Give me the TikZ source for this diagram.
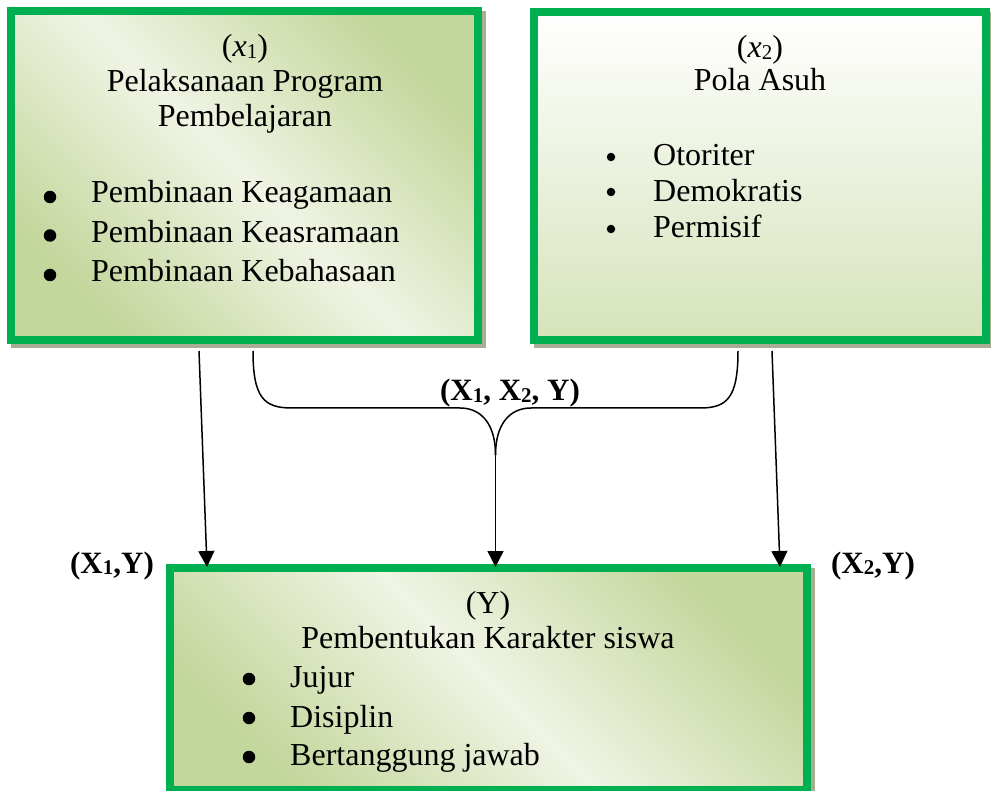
\documentclass[tikz,border=0pt]{standalone}
\usepackage{fontspec}
\setmainfont{Liberation Serif}
\usetikzlibrary{arrows.meta,backgrounds,calc}
\definecolor{bgreen}{RGB}{0,176,80}
\definecolor{shad}{RGB}{168,174,148}
\definecolor{oliveD}{RGB}{195,214,155}
\definecolor{oliveL}{RGB}{240,244,228}
\definecolor{oliveB}{RGB}{214,227,186}
\pgfdeclarehorizontalshading{diagolive}{100bp}{color(0bp)=(oliveD); color(25bp)=(oliveD); color(50bp)=(oliveL); color(75bp)=(oliveD); color(100bp)=(oliveD)}
\newcommand\sbs[1]{\raisebox{-1.5pt}{\fontsize{21}{21}\selectfont #1}}
\begin{document}
\begin{tikzpicture}[x=1pt,y=-1pt,
  boxbase/.style={draw=bgreen, line width=8pt, inner sep=0pt, outer sep=0pt},
  diagbox/.style={boxbase, shading=diagolive, shading angle=45},
  vertbox/.style={boxbase, top color=white, bottom color=oliveB},
  txt/.style={anchor=base, inner sep=0pt, font=\fontsize{32}{36}\selectfont},
  itemtxt/.style={txt, anchor=base west},
  lbl/.style={anchor=base, inner sep=0pt, font=\fontsize{31}{36}\selectfont\bfseries},
  bigdot/.style={circle, fill=black, inner sep=0pt, minimum size=12.5pt},
  smalldot/.style={circle, fill=black, inner sep=0pt, minimum size=8.5pt},
  conn/.style={line width=1.5pt},
  arr/.style={conn, -{Triangle[width=16pt,length=16pt]}}
]
\useasboundingbox (0,0) rectangle (991,791);

% boxes
\node[diagbox, minimum width=467pt, minimum height=329pt] (b1) at (244.5,175.5) {};
\node[vertbox, minimum width=452pt, minimum height=328pt] (b2) at (760,176) {};
\node[diagbox, minimum width=637pt, minimum height=222pt] (b3) at (488.5,679) {};

\begin{scope}[on background layer]
  \fill[shad] (b1.north west) rectangle ([xshift=8pt,yshift=-8pt]b1.south east);
  \fill[shad] (b2.north west) rectangle ([xshift=8pt,yshift=-8pt]b2.south east);
  \fill[shad] (b3.north west) rectangle ([xshift=8pt,yshift=-8pt]b3.south east);
\end{scope}

% box 1 text
\node[txt] (h1a) at (245,57) {(\textit{x}\sbs{1})};
\node[txt] (h1b) at (245,92) {Pelaksanaan Program};
\node[txt] (h1c) at (245,127) {Pembelajaran};
\node[bigdot] (d1a) at (50,197) {};
\node[bigdot] (d1b) at (50,235.5) {};
\node[bigdot] (d1c) at (50,275) {};
\node[itemtxt] (i1a) at (91,203) {Pembinaan Keagamaan};
\node[itemtxt] (i1b) at (91,243) {Pembinaan Keasramaan};
\node[itemtxt] (i1c) at (91,282) {Pembinaan Kebahasaan};

% box 2 text
\node[txt] (h2a) at (760,58) {(\textit{x}\sbs{2})};
\node[txt] (h2b) at (760,91) {Pola Asuh};
\node[smalldot] (d2a) at (611,157) {};
\node[smalldot] (d2b) at (611,192) {};
\node[smalldot] (d2c) at (611,229) {};
\node[itemtxt] (i2a) at (653,166) {Otoriter};
\node[itemtxt] (i2b) at (653,202) {Demokratis};
\node[itemtxt] (i2c) at (653,238) {Permisif};

% box 3 text
\node[txt] (h3a) at (488,613) {(Y)};
\node[txt] (h3b) at (488,648) {Pembentukan Karakter siswa};
\node[bigdot] (d3a) at (249,679) {};
\node[bigdot] (d3b) at (249,718) {};
\node[bigdot] (d3c) at (249,757) {};
\node[itemtxt] (i3a) at (290,687) {Jujur};
\node[itemtxt] (i3b) at (290,727) {Disiplin};
\node[itemtxt] (i3c) at (290,765) {Bertanggung jawab};

% labels
\node[lbl] (l12) at (510,401) {(X\sbs{1}, X\sbs{2}, Y)};
\node[lbl] (l1) at (112,573) {(X\sbs{1},Y)};
\node[lbl] (l2) at (873,573) {(X\sbs{2},Y)};

% connector coordinates
\coordinate (s1) at (199,351);
\coordinate (e1) at (207,567);
\coordinate (s2) at (772,351);
\coordinate (e2) at (780,567);
\coordinate (bl) at (253,351);
\coordinate (br) at (738,351);
\coordinate (bj) at (495.5,455);
\coordinate (em) at (495.5,567);

\draw[arr] (s1) -- (e1);
\draw[arr] (s2) -- (e2);
\draw[conn] (bl) .. controls (253,398) and (264,408) .. (292,408) -- (460,408)
  .. controls (482,408) and (495.5,425) .. (bj);
\draw[conn] (br) .. controls (738,398) and (727,408) .. (700,408) -- (531,408)
  .. controls (509,408) and (495.5,425) .. (bj);
\draw[arr] (bj) -- (em);
\end{tikzpicture}
\end{document}
